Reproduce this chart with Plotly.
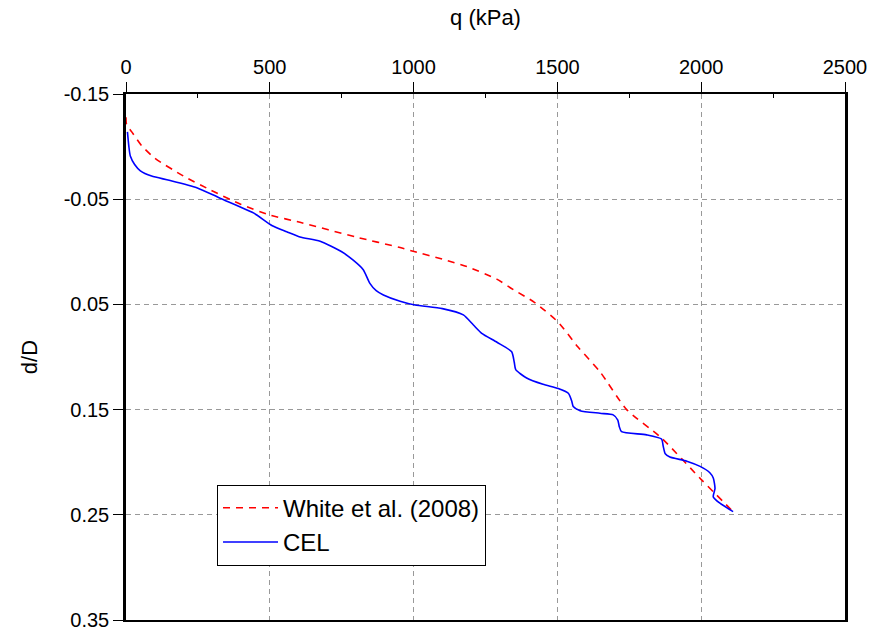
import plotly.graph_objects as go

# White et al. (2008)
white_q = [0, 2, 20, 54, 100, 200, 292, 400, 500, 605, 800, 953, 1005, 1100, 1185, 1289,
           1347, 1420, 1503, 1570, 1648, 1741, 1862, 2002, 2111]
white_d = [-0.128, -0.121, -0.114, -0.101, -0.089, -0.072, -0.059, -0.045, -0.035, -0.028,
           -0.014, -0.004, 0.0, 0.007, 0.014, 0.026, 0.036, 0.048, 0.067, 0.090, 0.114,
           0.150, 0.177, 0.217, 0.247]

# CEL
cel_q = [5, 10, 15, 30, 50, 89, 150, 246, 327, 443, 507, 559, 605, 675, 750, 790, 825, 848,
         870, 895, 953, 1005, 1100, 1173, 1208, 1237, 1290, 1341, 1350, 1355, 1393, 1450,
         1503, 1538, 1550, 1555, 1579, 1648, 1694, 1710, 1715, 1723, 1810, 1862, 1868, 1875,
         1891, 1950, 1996, 2030, 2042, 2048, 2042, 2065, 2111]
cel_d = [-0.114, -0.100, -0.091, -0.083, -0.077, -0.072, -0.068, -0.061, -0.051, -0.037,
         -0.025, -0.019, -0.014, -0.010, 0.000, 0.008, 0.017, 0.030, 0.037, 0.041, 0.047,
         0.0506, 0.054, 0.060, 0.0696, 0.0775, 0.086, 0.095, 0.105, 0.112, 0.120, 0.126,
         0.130, 0.1345, 0.142, 0.147, 0.151, 0.1535, 0.155, 0.160, 0.166, 0.171, 0.174,
         0.178, 0.185, 0.192, 0.195, 0.199, 0.204, 0.210, 0.215, 0.225, 0.233, 0.239, 0.247]

x_ticks = [0, 500, 1000, 1500, 2000, 2500]
y_ticks = [-0.15, -0.05, 0.05, 0.15, 0.25, 0.35]

font_family = "Liberation Sans, Arial, sans-serif"

fig = go.Figure()
fig.add_trace(go.Scatter(
    x=white_q, y=white_d, mode="lines", name="White et al. (2008)",
    line=dict(color="#ff0000", width=1.6, dash="7px,6px", shape="spline", smoothing=0.6),
))
fig.add_trace(go.Scatter(
    x=cel_q, y=cel_d, mode="lines", name="CEL",
    line=dict(color="#0000ff", width=1.6, shape="spline", smoothing=0.6),
))

fig.update_layout(
    width=875, height=636,
    margin=dict(l=126, r=30, t=94, b=16, autoexpand=False),
    paper_bgcolor="white", plot_bgcolor="white",
    font=dict(family=font_family, size=20, color="black"),
    showlegend=True,
    legend=dict(
        x=0.1266, y=0.2452 + 0.012, xanchor="left", yanchor="top",
        bordercolor="black", borderwidth=1, bgcolor="white",
        font=dict(size=24, family=font_family),
        tracegroupgap=0, itemwidth=55,
    ),
    xaxis=dict(
        side="top", range=[0, 2500], tickvals=x_ticks,
        ticktext=[str(v) for v in x_ticks], automargin=False,
        showline=True, linecolor="black", linewidth=2, mirror=True,
        ticks="outside", ticklen=10, tickwidth=1.2, tickcolor="black",
        minor=dict(tickvals=[250, 750, 1250, 1750, 2250], ticks="inside", ticklen=4,
                   tickcolor="black", showgrid=False),
        showgrid=True, gridcolor="#999999", griddash="5px,4px", gridwidth=1,
        zeroline=False,
        title=dict(text="q (kPa)", font=dict(size=22), standoff=24),
        tickfont=dict(size=20),
    ),
    yaxis=dict(
        range=[0.35, -0.15], tickvals=y_ticks,
        ticktext=["%.2f" % v for v in y_ticks], automargin=False,
        showline=True, linecolor="black", linewidth=2.5, mirror=True,
        ticks="outside", ticklen=10, tickwidth=1.2, tickcolor="black",
        showgrid=True, gridcolor="#999999", griddash="5px,4px", gridwidth=1,
        zeroline=False,
        title=dict(text="d/D", font=dict(size=22), standoff=20),
        tickfont=dict(size=20),
    ),
)

fig.write_html("out.html", config={"displayModeBar": False},
               post_script="document.body.style.margin='0';")
